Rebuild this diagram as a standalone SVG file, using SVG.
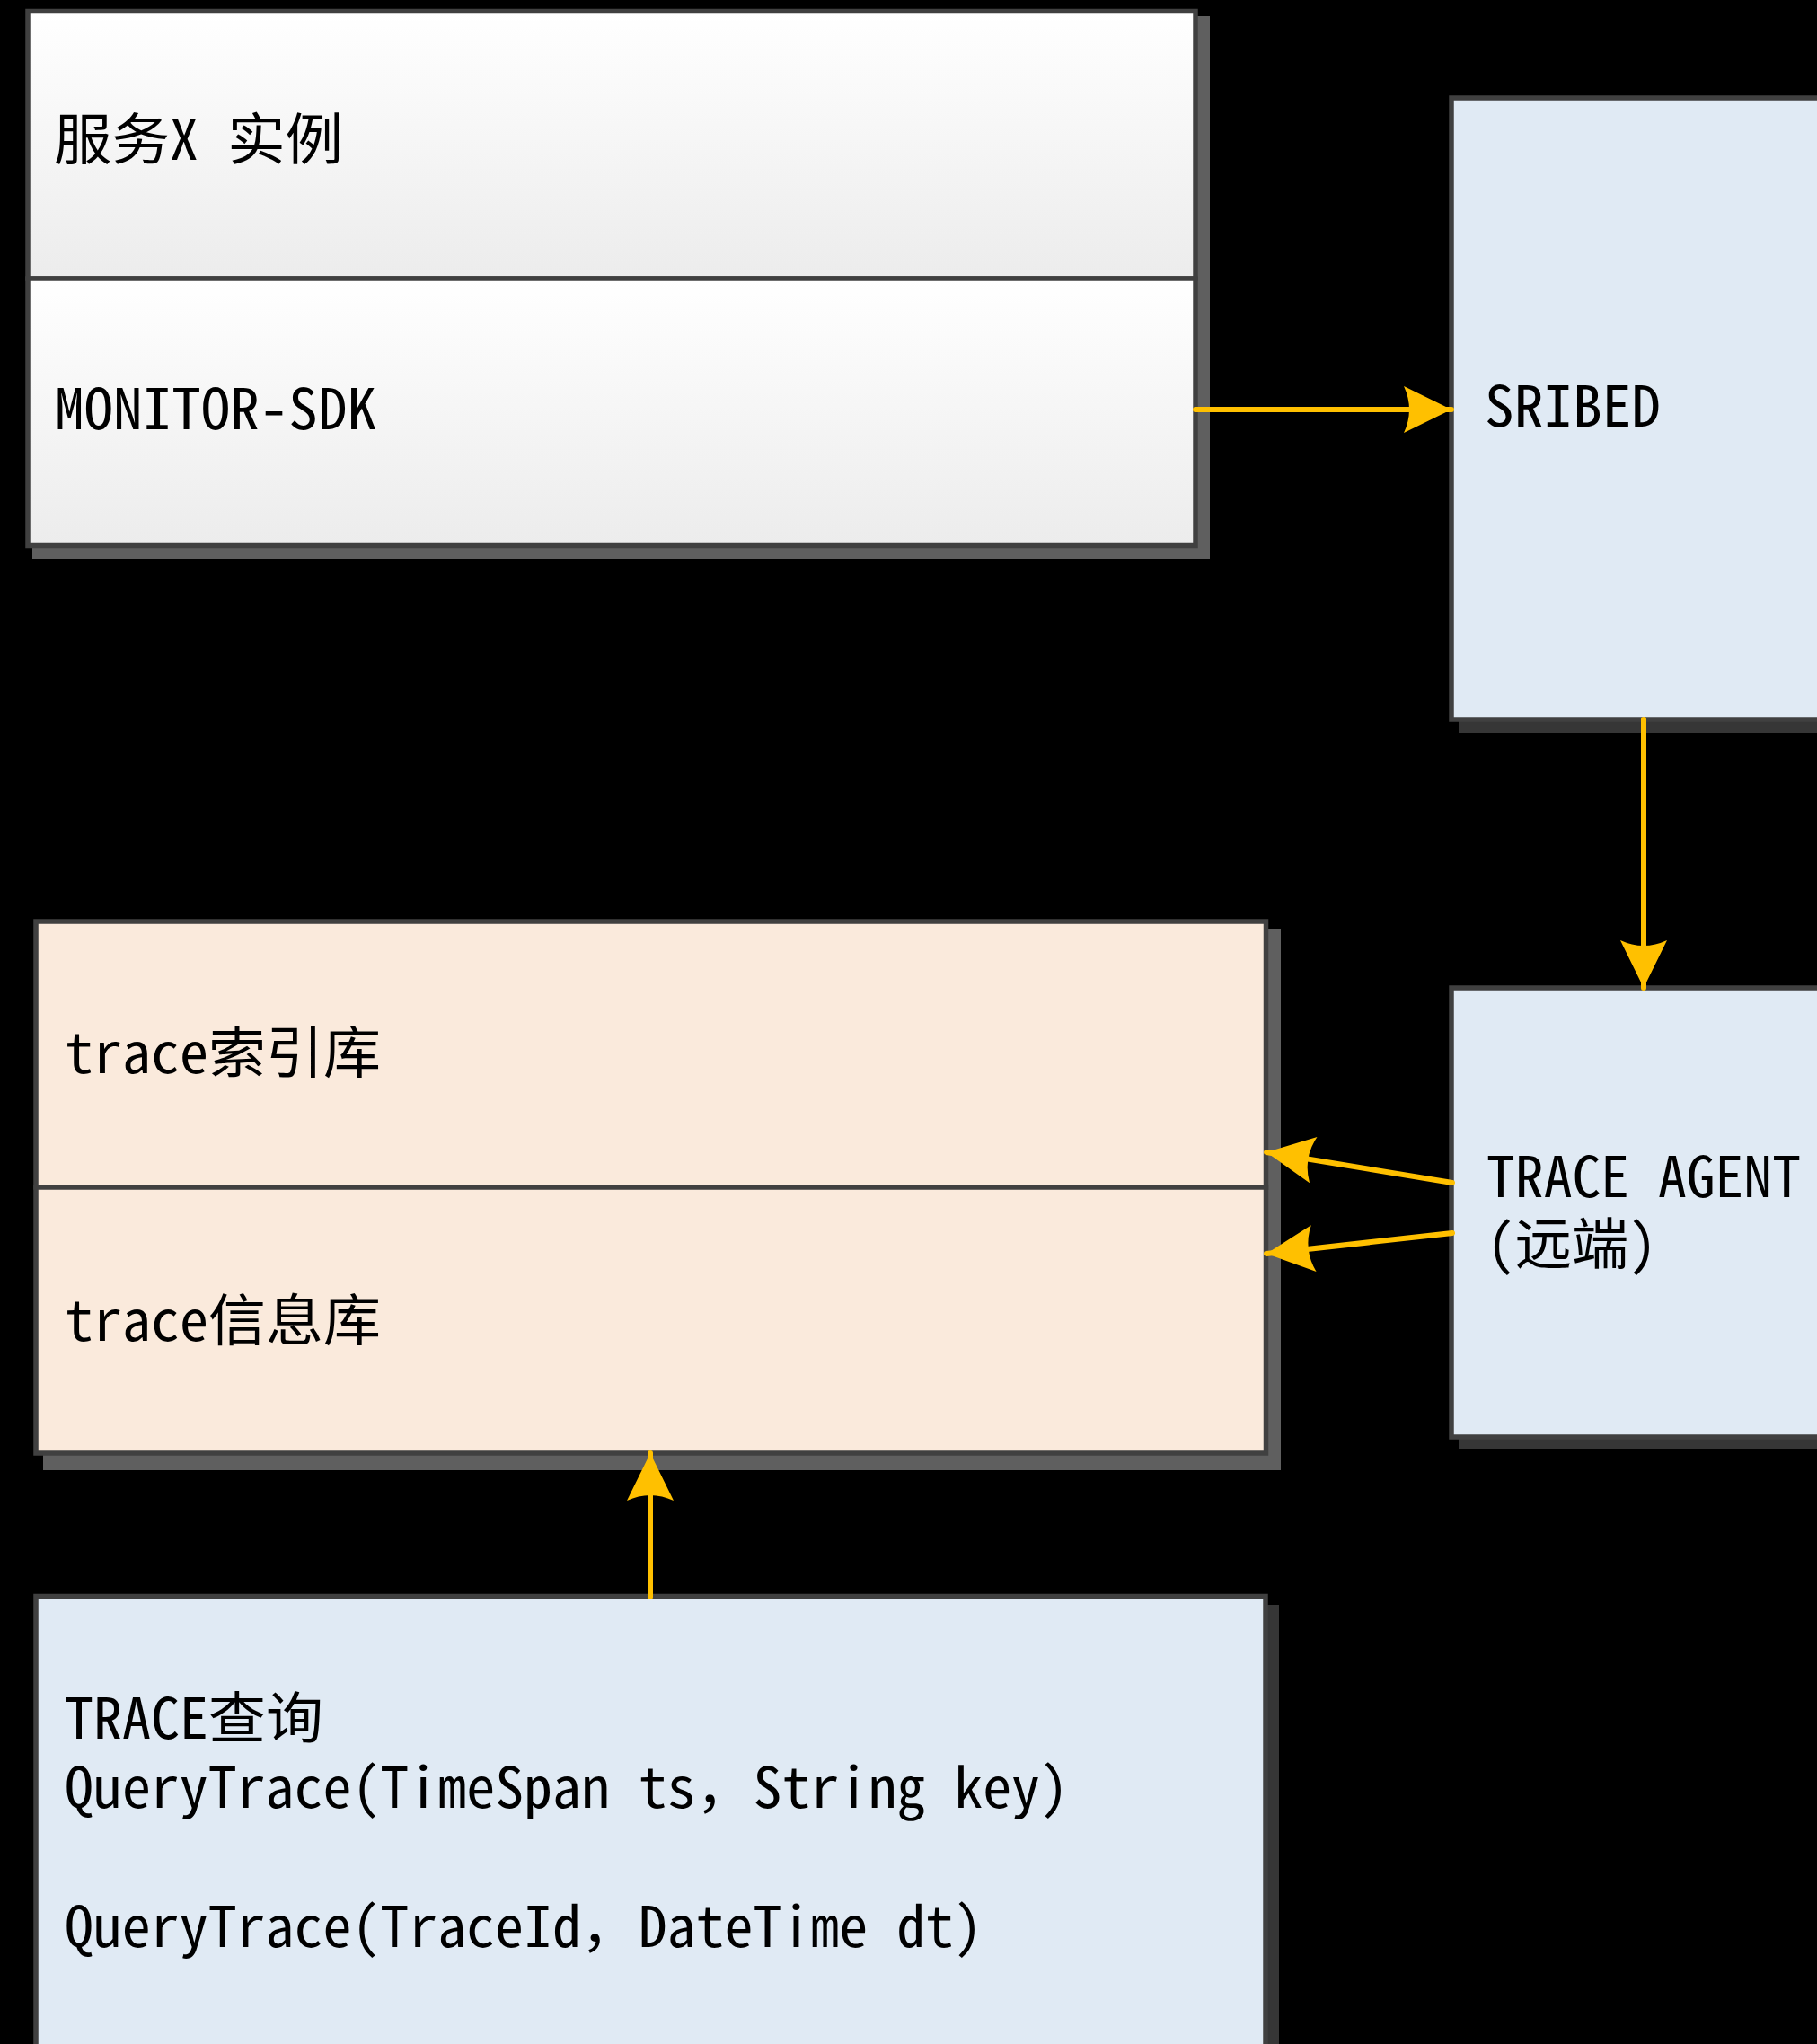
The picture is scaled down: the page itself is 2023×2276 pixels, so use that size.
<svg xmlns="http://www.w3.org/2000/svg" width="2023" height="2276" viewBox="0 0 2023 2276">
<defs>
<linearGradient id="gWhite" x1="0" y1="0" x2="0" y2="1"><stop offset="0" stop-color="#ffffff"/><stop offset="1" stop-color="#ececec"/></linearGradient>
<marker id="arr" markerUnits="userSpaceOnUse" markerWidth="60" markerHeight="60" refX="0" refY="0" orient="auto" overflow="visible"><path d="M0,0 L-53,-26 Q-41,0 -53,26 Z" fill="#FFC000"/></marker>
</defs>
<style>
.box{stroke:#404040;stroke-width:5.5}
.sh1{fill:#5f5f5f}
.sh2{fill:#363636}
.white{fill:url(#gWhite)}
.blue{fill:#e0eaf4}
.peach{fill:#faeadc}
.t{font-family:"Noto Sans Mono CJK SC","Noto Sans CJK SC","DejaVu Sans Condensed",sans-serif;font-size:62px;fill:#000}
.c{fill:none;stroke:#FFC000;stroke-width:6;stroke-linecap:round;marker-end:url(#arr)}
</style>
<rect x="0" y="0" width="2023" height="2276" fill="#000"/>

<g id="service-x">
<rect class="sh1" x="36" y="18" width="1311" height="605"/>
<rect class="box white" x="31" y="12.5" width="1300" height="297.5"/>
<rect class="box white" x="31" y="310" width="1300" height="297.5"/>
<text class="t" x="60" y="178" textLength="322" lengthAdjust="spacingAndGlyphs">服务X 实例</text>
<text class="t" x="61" y="478" textLength="358" lengthAdjust="spacingAndGlyphs">MONITOR-SDK</text>
</g>

<g id="sribed">
<rect class="sh2" x="1624" y="118" width="420" height="698"/>
<rect class="box blue" x="1616" y="109" width="430" height="692"/>
<text class="t" x="1653" y="475" textLength="196" lengthAdjust="spacingAndGlyphs">SRIBED</text>
</g>

<g id="trace-agent">
<rect class="sh2" x="1624" y="1108" width="420" height="506"/>
<rect class="box blue" x="1616" y="1100" width="430" height="500"/>
<text class="t"><tspan x="1655" y="1333" textLength="350" lengthAdjust="spacingAndGlyphs">TRACE AGENT</tspan><tspan x="1655" y="1408" textLength="190" lengthAdjust="spacingAndGlyphs">(远端)</tspan></text>
</g>

<g id="trace-db">
<rect class="sh1" x="48" y="1034" width="1378" height="603"/>
<rect class="box peach" x="40" y="1026" width="1369.5" height="296"/>
<rect class="box peach" x="40" y="1322" width="1369.5" height="296"/>
<text class="t" x="72" y="1195" textLength="352" lengthAdjust="spacingAndGlyphs">trace索引库</text>
<text class="t" x="72" y="1493" textLength="352" lengthAdjust="spacingAndGlyphs">trace信息库</text>
</g>

<g id="trace-query">
<rect class="sh2" x="48" y="1787" width="1376" height="520"/>
<rect class="box blue" x="40" y="1777.5" width="1369" height="502"/>
<text class="t"><tspan x="72" y="1936" textLength="288" lengthAdjust="spacingAndGlyphs">TRACE查询</tspan><tspan x="72" y="2013" textLength="1118" lengthAdjust="spacingAndGlyphs">QueryTrace(TimeSpan ts，String key)</tspan><tspan x="72" y="2168" textLength="1022" lengthAdjust="spacingAndGlyphs">QueryTrace(TraceId，DateTime dt)</tspan></text>
</g>

<g id="connectors">
<line class="c" x1="1331" y1="456" x2="1616" y2="456"/>
<line class="c" x1="1830" y1="801" x2="1830" y2="1100"/>
<line class="c" x1="1617" y1="1317" x2="1410" y2="1283"/>
<line class="c" x1="1617" y1="1373" x2="1410" y2="1396"/>
<line class="c" x1="724" y1="1778" x2="724" y2="1618"/>
</g>
</svg>
